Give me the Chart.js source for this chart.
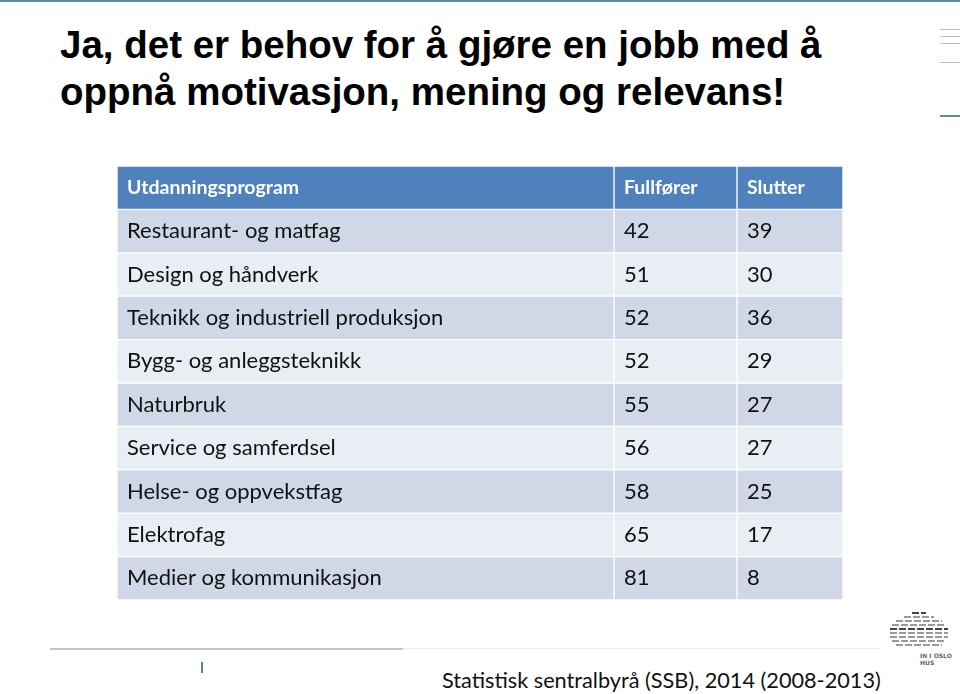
<!DOCTYPE html>
<html>
<head>
<meta charset="utf-8">
<script src="https://cdn.jsdelivr.net/npm/chart.js@4"></script>
<style>
  html, body { margin: 0; padding: 0; background: #fff; }
  body { width: 960px; height: 694px; position: relative; overflow: hidden; font-family: "Liberation Sans", Arial, sans-serif; }
  .topline { position: absolute; left: 0; top: 0; width: 960px; height: 2px; background: #5f8e98; }
  .title { position: absolute; left: 60px; top: 21px; font-weight: bold; font-size: 39px; line-height: 47px; color: #000; white-space: nowrap; transform-origin: 0 0; }
  .deco { position: absolute; left: 940px; width: 20px; height: 1px; background: #b8bcbf; }
  #tableWrap { position: absolute; left: 117px; top: 166px; width: 726px; height: 434px; }
  .rule1 { position: absolute; left: 50px; top: 648px; width: 353px; height: 2px; background: #c4c4c4; }
  .rule2 { position: absolute; left: 403px; top: 648px; width: 478px; height: 1px; background: #ececec; }
  .tick { position: absolute; left: 201px; top: 662px; width: 2px; height: 11px; background: #4a8a9c; }
  .source { position: absolute; left: 442px; top: 667px; font-family: Lato, "Open Sans", sans-serif; font-size: 21.7px; color: #111; white-space: nowrap; }
  .logo { position: absolute; left: 888px; top: 610px; width: 62px; height: 60px; }
  .logo div { position: absolute; height: 2px; background: #666; }
  .logotext { position: absolute; font-family: "DejaVu Sans", sans-serif; font-size: 6px; font-weight: bold; color: #666; line-height: 7px; white-space: nowrap; }
</style>
</head>
<body>
<div class="topline"></div>
<div class="title" id="title">Ja, det er behov for å gjøre en jobb med å<br>oppnå motivasjon, mening og relevans!</div>

<div class="deco" style="top:29px"></div>
<div class="deco" style="top:36px"></div>
<div class="deco" style="top:43px"></div>
<div class="deco" style="top:62px"></div>
<div class="deco" style="top:115px; height:2px; background:#5f8e98"></div>

<div id="tableWrap"><canvas id="tableChart"></canvas></div>

<div class="rule1"></div>
<div class="rule2"></div>
<div class="tick"></div>
<div class="source">Statistisk sentralbyrå (SSB), 2014 (2008-2013)</div>

<div class="logo" id="logo">
  <span class="logotext" style="left:32px; top:42px">IN I OSLO</span>
  <span class="logotext" style="left:32px; top:49px">HUS</span>
</div>

<script>
// ---- data ----
var headers = ['Utdanningsprogram', 'Fullfører', 'Slutter'];
var programs = [
  'Restaurant- og matfag',
  'Design og håndverk',
  'Teknikk og industriell produksjon',
  'Bygg- og anleggsteknikk',
  'Naturbruk',
  'Service og samferdsel',
  'Helse- og oppvekstfag',
  'Elektrofag',
  'Medier og kommunikasjon'
];
var fullforer = [42, 51, 52, 52, 55, 56, 58, 65, 81];
var slutter = [39, 30, 36, 29, 27, 27, 25, 17, 8];

// ---- layout ----
var colEdges = [0, 497, 620, 726];
var headerColor = '#4f81bd';
var darkRow = '#d0d8e8';
var lightRow = '#e9edf4';

// title: squeeze to the slide width
(function () {
  var t = document.getElementById('title');
  var w = t.scrollWidth;
  t.style.transform = 'scaleX(' + (762 / w) + ')';
})();

// logo dashes (arch of short bars)
(function () {
  var logo = document.getElementById('logo');
  var rows = [
    [24, 14], [16, 30], [8, 46], [4, 54], [2, 58], [2, 58], [2, 58], [4, 54], [8, 46]
  ];
  rows.forEach(function (r, i) {
    for (var x = r[0]; x < r[0] + r[1]; x += 9) {
      var d = document.createElement('div');
      d.style.left = x + 'px';
      d.style.top = (2 + i * 4) + 'px';
      d.style.width = Math.min(7, r[0] + r[1] - x) + 'px';
      d.style.background = (i + x) % 3 === 0 ? '#444' : '#9a9a9a';
      logo.appendChild(d);
    }
  });
})();

var rowLabels = [headers[0]].concat(programs);
var rowColors = rowLabels.map(function (l, i) {
  if (i === 0) return headerColor;
  return i % 2 === 1 ? darkRow : lightRow;
});

function colData(c) {
  return rowLabels.map(function () { return [colEdges[c], colEdges[c + 1]]; });
}

var cellText = {
  id: 'cellText',
  afterDatasetsDraw: function (chart) {
    var ctx = chart.ctx;
    var xs = chart.scales.x;
    var ys = chart.scales.y;
    ctx.save();
    ctx.textBaseline = 'middle';
    ctx.textAlign = 'left';
    rowLabels.forEach(function (label, i) {
      var y = ys.getPixelForValue(i);
      var texts;
      if (i === 0) {
        ctx.font = 'bold 19.5px Lato, "Open Sans", sans-serif';
        ctx.fillStyle = '#ffffff';
        texts = headers;
      } else {
        ctx.font = '22px Lato, "Open Sans", sans-serif';
        ctx.fillStyle = '#111111';
        texts = [programs[i - 1], String(fullforer[i - 1]), String(slutter[i - 1])];
      }
      texts.forEach(function (t, c) {
        ctx.fillText(t, xs.getPixelForValue(colEdges[c]) + 10, y);
      });
    });
    ctx.restore();
  }
};

function ds(c) {
  return {
    label: headers[c],
    data: colData(c),
    backgroundColor: rowColors,
    borderColor: '#ffffff',
    borderWidth: 1,
    borderSkipped: false,
    grouped: false,
    barPercentage: 1,
    categoryPercentage: 1
  };
}

new Chart(document.getElementById('tableChart'), {
  type: 'bar',
  data: {
    labels: rowLabels,
    datasets: [ds(0), ds(1), ds(2)]
  },
  options: {
    indexAxis: 'y',
    responsive: true,
    maintainAspectRatio: false,
    animation: false,
    layout: { padding: 0 },
    plugins: { legend: { display: false }, tooltip: { enabled: false } },
    scales: {
      x: { type: 'linear', min: colEdges[0], max: colEdges[3], display: false },
      y: { type: 'category', display: false, offset: true }
    }
  },
  plugins: [cellText]
});
</script>
</body>
</html>
